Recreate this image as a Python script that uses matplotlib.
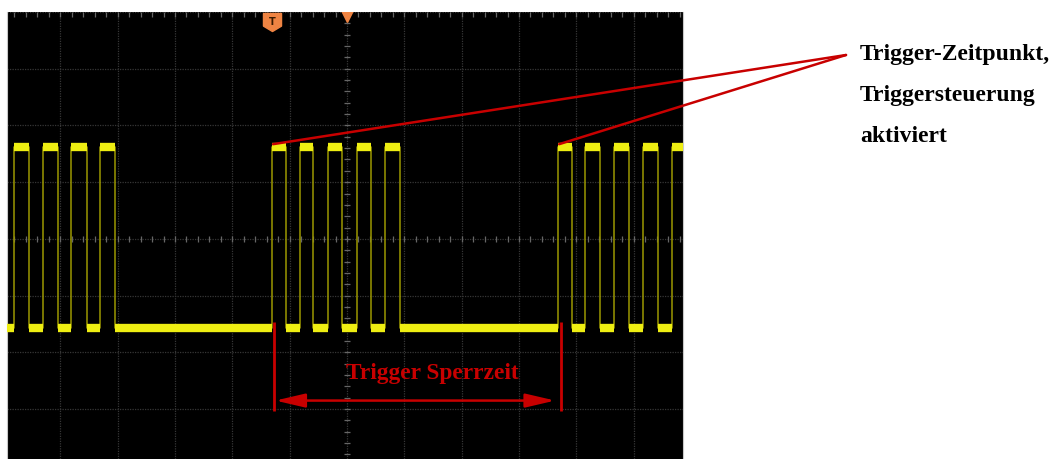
import numpy as np
import matplotlib.pyplot as plt

# edge times in screen divisions (0 = centre line)
rise_times = [-5.81, -5.31, -4.82, -4.31,
              -1.31, -0.82, -0.33, 0.17, 0.66,
              3.68, 4.15, 4.66, 5.17, 5.67]
fall_times = [-5.55, -5.04, -4.54, -4.05,
              -1.06, -0.59, -0.09, 0.42, 0.92,
              3.93, 4.42, 4.92, 5.43]
high_level = 1.62
low_level = -1.57

trigger_time = -1.31        # first edge of the 2nd burst
holdoff_end = 3.73          # first edge of the 3rd burst
holdoff_label = "Trigger Sperrzeit"
note_lines = ["Trigger-Zeitpunkt,", "Triggersteuerung", "aktiviert"]

x_range = (-5.93, 5.86)
y_range = (-3.88, 4.0)

red = "#c80000"
yellow = "#eeee12"
edge_yellow = "#9c9800"
grid_col = "#363636"
tick_col = "#666666"
orange = "#ef8443"


def main():
    W, H = 1055, 460
    fig = plt.figure(figsize=(W / 100, H / 100), dpi=100)
    ax = fig.add_axes([7 / W, 0, 676 / W, 447 / H])
    ax.set_facecolor("black")
    ax.set_xlim(*x_range)
    ax.set_ylim(*y_range)
    ax.set_xticks([])
    ax.set_yticks([])
    for s in ["top", "bottom"]:
        ax.spines[s].set_visible(False)
    for s in ["left", "right"]:
        ax.spines[s].set_color("#c8c8c8")
        ax.spines[s].set_linewidth(0.8)

    # graticule
    for gx in range(-6, 7):
        ax.axvline(gx, color=grid_col, lw=0.9, ls=(0, (1, 1)), zorder=1)
    for gy in range(-4, 5):
        ax.axhline(gy, color=grid_col, lw=0.9, ls=(0, (1, 1)), zorder=1)
    minor_x = np.arange(-6, 6.01, 0.2)
    minor_y = np.arange(-4, 4.01, 0.2)
    ax.vlines(minor_x, -0.06, 0.06, color=tick_col, lw=0.9, zorder=1)
    ax.hlines(minor_y, -0.06, 0.06, color=tick_col, lw=0.9, zorder=1)
    ax.vlines(minor_x, 3.92, 4.0, color=tick_col, lw=0.9, zorder=1)

    # waveform as steps
    edges = sorted([(t, 1) for t in rise_times] + [(t, 0) for t in fall_times])
    t = [x_range[0] - 0.1]
    v = [low_level]
    state = low_level
    for et, up in edges:
        t.append(et)
        v.append(state)
        state = high_level if up else low_level
        t.append(et)
        v.append(state)
    t.append(x_range[1] + 0.1)
    v.append(state)
    ax.plot(t, v, color=edge_yellow, lw=1.1, zorder=2)

    # thick flat parts of the trace
    for i in range(0, len(t) - 1, 2):
        ax.plot([t[i], t[i + 1]], [v[i], v[i + 1]], color=yellow, lw=6,
                solid_capstyle="butt", zorder=3)

    # markers on top edge
    ax.plot([trigger_time], [3.82], marker=[(-1, 1), (1, 1), (1, -0.4), (0, -1), (-1, -0.4), (-1, 1)],
            ms=13, color=orange, mec=orange, zorder=5)
    ax.text(trigger_time, 3.84, "T", color="#3a1a00", fontsize=7, fontweight="bold",
            ha="center", va="center", zorder=6)
    ax.plot([0], [3.93], marker="v", ms=9, color=orange, zorder=5)

    # hold-off markers
    ax.vlines([trigger_time + 0.03, holdoff_end], -3.04, low_level + 0.1,
              color=red, lw=2, zorder=6)
    ax.annotate("", xy=(holdoff_end - 0.1, -2.85), xytext=(trigger_time + 0.06, -2.85),
                arrowprops=dict(arrowstyle="<|-|>,head_length=1.2,head_width=0.28",
                                mutation_scale=15, color=red, lw=1.8,
                                shrinkA=0, shrinkB=0), zorder=6)
    ax.text(1.48, -2.46, holdoff_label, color=red,
            family="Liberation Serif", fontweight="bold", fontsize=16.8,
            ha="center", va="baseline", zorder=6)

    # callout lines to the note
    join = (846 / W, 1 - 56 / H)
    for tt in [trigger_time, holdoff_end - 0.05]:
        ax.annotate("", xy=(tt + 0.02, high_level + 0.05), xytext=join,
                    textcoords="figure fraction", annotation_clip=False,
                    arrowprops=dict(arrowstyle="-", color=red, lw=1.8,
                                    shrinkA=0, shrinkB=0), zorder=7)

    for i, line in enumerate(note_lines):
        fig.text(860 / W, 1 - (60 + 41 * i) / H, line, color="black",
                 family="Liberation Serif", fontweight="bold", fontsize=17,
                 ha="left", va="baseline")

    fig.savefig("out.png", dpi=100, facecolor="white")


main()
